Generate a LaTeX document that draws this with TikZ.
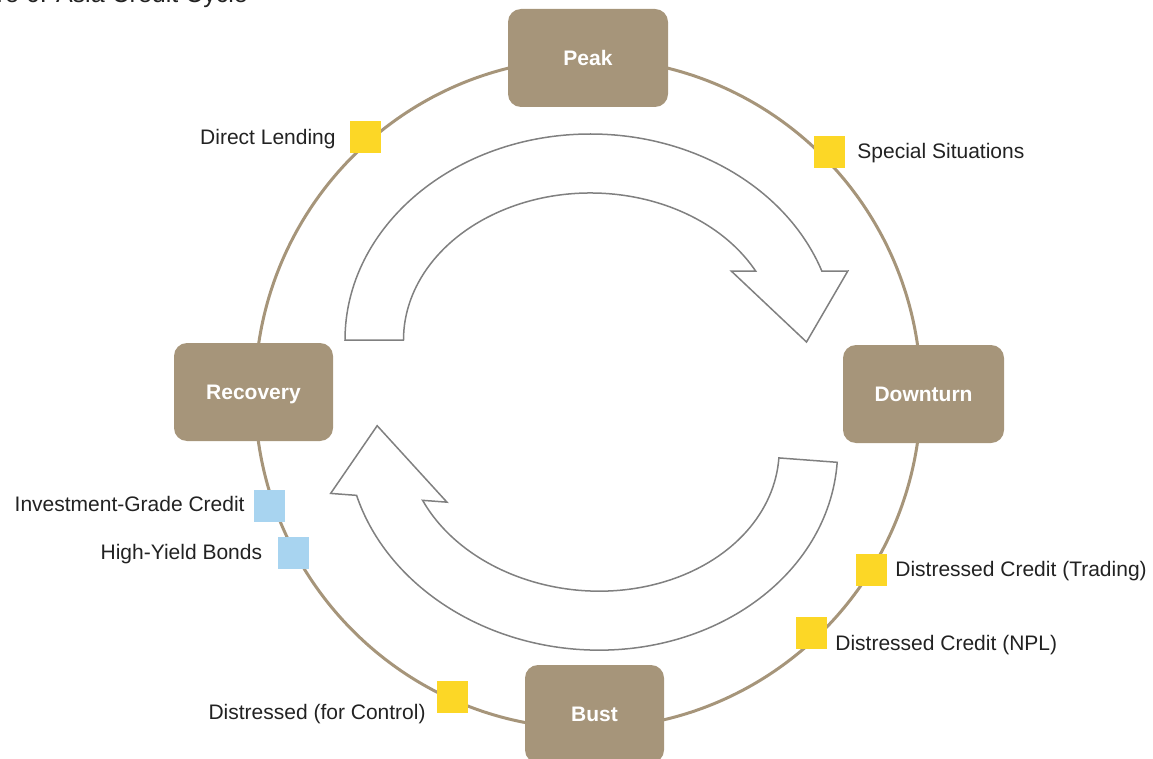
\documentclass[tikz,border=0pt]{standalone}
\usepackage{fontspec}
\setmainfont{Liberation Sans}
\usetikzlibrary{positioning}
\definecolor{cycleTan}{HTML}{A6957A}
\definecolor{markGold}{HTML}{FCD726}
\definecolor{markBlue}{HTML}{A8D4F0}
\definecolor{arrowGrey}{HTML}{808080}
\definecolor{ink}{HTML}{222222}

\tikzset{
  phase/.style={rounded corners=13pt, fill=cycleTan, text=white,
    font=\fontsize{21}{25}\selectfont\bfseries, text depth=0pt,
    minimum width=160pt, minimum height=98pt, inner sep=0pt},
  marker/.style={minimum width=31pt, minimum height=32pt, inner sep=0pt},
  lbl/.style={inner sep=0pt, text=ink, text depth=0pt,
    font=\fontsize{21}{25}\selectfont},
  flow/.style={draw=arrowGrey, line width=1.5pt, fill=white}
}

% curved block arrow, centred on its ellipse
\newcommand{\cyclearrow}{%
  (-245.5,0) arc[start angle=180, end angle=19.57, x radius=245.5pt, y radius=206pt]
  -- (257.3,69) -- (216,-2) -- (140.7,69) -- (165.1,69)
  arc[start angle=28.0, end angle=180, x radius=187pt, y radius=147pt] -- cycle}

\begin{document}
\begin{tikzpicture}[x=1pt, y=1pt]
\useasboundingbox (0,0) rectangle (1153,-759);

\node[lbl, anchor=base east, font=\fontsize{25}{30}\selectfont] (title) at (248,-3) {Figure 6: Asia Credit Cycle};

% the cycle
\coordinate (hub) at (588,-393.5);
\draw[cycleTan, line width=3pt] (hub) ellipse[x radius=333pt, y radius=335pt];

\node[phase] (peak) at (588,-58) {Peak};
\node[phase, minimum width=161pt] (downturn) at (923.5,-394) {Downturn};
\node[phase, minimum width=139pt] (bust) at (594.5,-714) {Bust};
\node[phase, minimum width=159pt] (recovery) at (253.5,-392) {Recovery};

% strategies along the cycle
\node[marker, fill=markGold] (sqDL) at (365.5,-137) {};
\node[marker, fill=markGold] (sqSS) at (829.5,-152.5) {};
\node[marker, fill=markGold] (sqDCT) at (871.5,-569.5) {};
\node[marker, fill=markGold] (sqNPL) at (811.5,-632.5) {};
\node[marker, fill=markGold] (sqDC) at (452.5,-697) {};
\node[marker, fill=markBlue] (sqIG) at (269.5,-505.5) {};
\node[marker, fill=markBlue] (sqHY) at (293,-552.5) {};

\node[lbl, left=14pt of sqDL] (lbDL) {Direct Lending};
\node[lbl, right=12pt of sqSS, yshift=2pt] (lbSS) {Special Situations};
\node[lbl, right=8pt of sqDCT, yshift=1pt] (lbDCT) {Distressed Credit (Trading)};
\node[lbl, right=8pt of sqNPL, yshift=-10.5pt] (lbNPL) {Distressed Credit (NPL)};
\node[lbl, left=11pt of sqDC, yshift=-15pt] (lbDC) {Distressed (for Control)};
\node[lbl, left=9pt of sqIG, yshift=2pt] (lbIG) {Investment-Grade Credit};
\node[lbl, left=15pt of sqHY, yshift=1pt] (lbHY) {High-Yield Bonds};

% direction of the cycle
\draw[flow, shift={(590.5,-340)}] \cyclearrow;
\draw[flow, shift={(592.4,-443.9)}, rotate=175.7] \cyclearrow;
\end{tikzpicture}
\end{document}
